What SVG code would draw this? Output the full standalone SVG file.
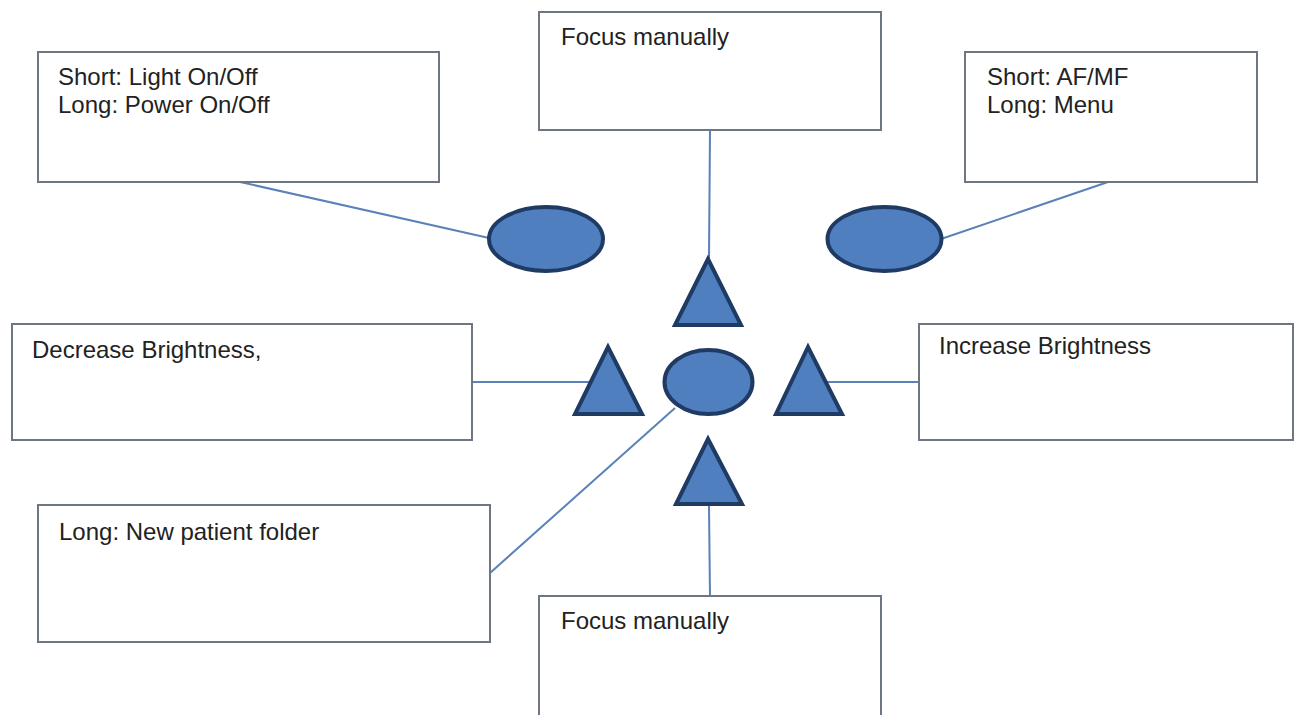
<svg xmlns="http://www.w3.org/2000/svg" width="1295" height="715" viewBox="0 0 1295 715">
<style>
.box{fill:#ffffff;stroke:#6f7683;stroke-width:2}
.lbl{font-family:"Liberation Sans",Arial,sans-serif;font-size:24px;fill:#222222}
.conn{stroke:#5a82b8;stroke-width:2;fill:none}
.btn{fill:#4f7fbf;stroke:#1f3a63;stroke-width:4;stroke-linejoin:miter}
</style>
<rect width="1295" height="715" fill="#ffffff"/>
<g id="connectors">
<line class="conn" x1="240" y1="182" x2="489" y2="238"/>
<line class="conn" x1="710" y1="130" x2="709" y2="258"/>
<line class="conn" x1="1108" y1="182" x2="941" y2="239"/>
<line class="conn" x1="472" y1="382" x2="592" y2="382"/>
<line class="conn" x1="826" y1="382" x2="919" y2="382"/>
<line class="conn" x1="675" y1="408" x2="490" y2="573"/>
<line class="conn" x1="709" y1="506" x2="710" y2="597"/>
</g>
<g id="box-power">
<rect class="box" x="38" y="52" width="401" height="130"/>
<text class="lbl" x="58" y="85">Short: Light On/Off</text>
<text class="lbl" x="58" y="113">Long: Power On/Off</text>
</g>
<g id="box-focus-top">
<rect class="box" x="539" y="12" width="342" height="118"/>
<text class="lbl" x="561" y="45">Focus manually</text>
</g>
<g id="box-afmf">
<rect class="box" x="965" y="52" width="292" height="130"/>
<text class="lbl" x="987" y="85">Short: AF/MF</text>
<text class="lbl" x="987" y="113">Long: Menu</text>
</g>
<g id="box-decrease">
<rect class="box" x="12" y="324" width="460" height="116"/>
<text class="lbl" x="32" y="358">Decrease Brightness,</text>
</g>
<g id="box-increase">
<rect class="box" x="919" y="324" width="374" height="116"/>
<text class="lbl" x="939" y="354">Increase Brightness</text>
</g>
<g id="box-patient">
<rect class="box" x="38" y="505" width="452" height="137"/>
<text class="lbl" x="59" y="540">Long: New patient folder</text>
</g>
<g id="box-focus-bottom">
<rect class="box" x="539" y="596" width="342" height="130"/>
<text class="lbl" x="561" y="629">Focus manually</text>
</g>
<g id="btn-left-oval"><ellipse class="btn" cx="546" cy="239" rx="57" ry="32"/></g>
<g id="btn-right-oval"><ellipse class="btn" cx="884.5" cy="239" rx="57" ry="32"/></g>
<g id="btn-up"><polygon class="btn" points="708,259 675,325 741,325"/></g>
<g id="btn-left"><polygon class="btn" points="608,347 575,414 642,414"/></g>
<g id="btn-center"><ellipse class="btn" cx="708.5" cy="382" rx="44" ry="32"/></g>
<g id="btn-right"><polygon class="btn" points="808,347 776,414 842,414"/></g>
<g id="btn-down"><polygon class="btn" points="708,439 676,504 742,504"/></g>
</svg>
